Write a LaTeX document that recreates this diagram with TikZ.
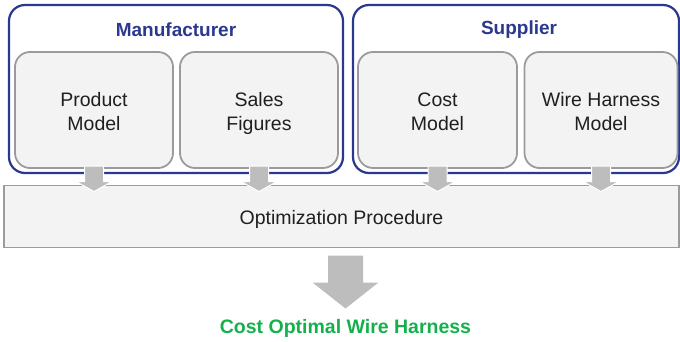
\documentclass[tikz,border=0pt]{standalone}
\usepackage{fontspec}
\setmainfont{Liberation Sans}
\usetikzlibrary{calc}
\definecolor{navy}{HTML}{2B388F}
\definecolor{boxgray}{HTML}{9B9B9B}
\definecolor{boxfill}{HTML}{F3F3F3}
\definecolor{feedgray}{HTML}{BDBDBD}
\definecolor{resultgreen}{HTML}{14B04C}

% two centred lines of text, drawn a little lower than their box so the caps sit centred
\newcommand\twolines[2]{\raisebox{-3.5pt}[\height][\depth]{\begin{tabular}{@{}c@{}}#1\\#2\end{tabular}}}

% small feed arrow from a model box down into the procedure box
\newcommand\feedarrow[2]{%
  \filldraw[feedgray, draw=white, line width=1pt] let \p1=(#1.south), \p2=(#2.north) in
    (\x1-9.5pt,\y1+2pt) -- (\x1+9.5pt,\y1+2pt) -- (\x1+9.5pt,\y2+4pt) --
    (\x1+18pt,\y2+4pt) -- (\x1,\y2-6pt) -- (\x1-18pt,\y2+4pt) --
    (\x1-9.5pt,\y2+4pt) -- cycle;}

\begin{document}
\begin{tikzpicture}[x=1pt,y=-1pt,
  group/.style={draw=navy, line width=2.2pt, rounded corners=16pt, inner sep=0pt, outer sep=0pt},
  grouptitle/.style={text=navy, font=\fontsize{19}{22}\selectfont\bfseries},
  model/.style={draw=boxgray, fill=boxfill, line width=1.8pt, rounded corners=15pt,
    inner sep=0pt, outer sep=0pt, minimum height=116pt,
    text=black!88, font=\fontsize{19.5}{24.5}\selectfont},
  proc/.style={draw=boxgray, fill=boxfill, line width=1.8pt, minimum width=675pt,
    minimum height=62pt, inner sep=0pt, outer sep=0pt, text height=16pt, text depth=0pt,
    text=black!88, font=\fontsize{19.5}{22}\selectfont},
  result/.style={text=resultgreen, font=\fontsize{19.5}{22}\selectfont\bfseries}
]
\useasboundingbox (0,0) rectangle (680,342);

% organisations
\node[group, minimum width=334pt, minimum height=168pt] (man) at (176,89) {};
\node[group, minimum width=326pt, minimum height=168pt] (sup) at (516,89) {};
\node[grouptitle] (mant) at (176,30) {Manufacturer};
\node[grouptitle] (supt) at (519,30) {Supplier};

% models
\node[model, minimum width=158pt] (pm) at (94,110) {\twolines{Product}{Model}};
\node[model, minimum width=158pt] (sf) at (259,110) {\twolines{Sales}{Figures}};
\node[model, minimum width=159pt] (cm) at (437.5,110) {\twolines{Cost}{Model}};
\node[model, minimum width=153pt] (wh) at (601,110) {\twolines{Wire Harness}{Model}};

% optimisation
\node[proc] (opt) at (341.5,216.5) {Optimization Procedure};
\node[result] (res) at (345.5,328) {Cost Optimal Wire Harness};

% arrows
\feedarrow{pm}{opt}
\feedarrow{sf}{opt}
\feedarrow{cm}{opt}
\feedarrow{wh}{opt}
\fill[feedgray] let \p1=(opt.south), \p2=(res.north) in
  (\x2-17.5pt,\y1-8pt) -- (\x2+17.5pt,\y1-8pt) -- (\x2+17.5pt,\y1-35pt) --
  (\x2+33pt,\y1-35pt) -- (\x2,\y1-61pt) -- (\x2-33pt,\y1-35pt) --
  (\x2-17.5pt,\y1-35pt) -- cycle;
\end{tikzpicture}
\end{document}
